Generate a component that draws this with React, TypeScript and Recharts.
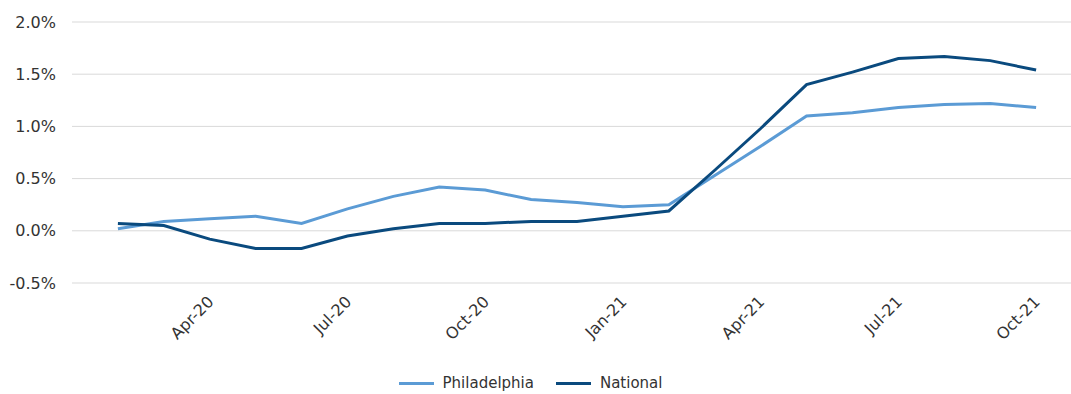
import React from "react";
import {
  LineChart,
  Line,
  XAxis,
  YAxis,
  CartesianGrid,
  Legend,
} from "recharts";

// Monthly change, Feb-20 through Oct-21
const months = [
  "Feb-20", "Mar-20", "Apr-20", "May-20", "Jun-20", "Jul-20", "Aug-20",
  "Sep-20", "Oct-20", "Nov-20", "Dec-20", "Jan-21", "Feb-21", "Mar-21",
  "Apr-21", "May-21", "Jun-21", "Jul-21", "Aug-21", "Sep-21", "Oct-21",
];

const philadelphia = [
  0.02, 0.09, 0.115, 0.14, 0.07, 0.21, 0.33, 0.42, 0.39, 0.3, 0.27, 0.23,
  0.25, 0.53, 0.81, 1.1, 1.13, 1.18, 1.21, 1.22, 1.18,
];

const national = [
  0.07, 0.05, -0.08, -0.17, -0.17, -0.05, 0.02, 0.07, 0.07, 0.09, 0.09, 0.14,
  0.19, 0.58, 0.98, 1.4, 1.52, 1.65, 1.67, 1.63, 1.54,
];

const tickMonths = ["Apr-20", "Jul-20", "Oct-20", "Jan-21", "Apr-21", "Jul-21", "Oct-21"];
const yTicks = [-0.5, 0, 0.5, 1.0, 1.5, 2.0];

// x position 0 is Jan-20, so Feb-20 sits one step in from the left edge
const data = months.map((m, i) => ({
  idx: i + 1,
  month: m,
  Philadelphia: philadelphia[i],
  National: national[i],
}));
const xTicks = tickMonths.map((m) => months.indexOf(m) + 1);

const FONT = "'DejaVu Sans', sans-serif";
const LIGHT = "#5b9bd5";
const DARK = "#0a4a7e";

const MonthTick = (props: any) => {
  const { x, y, payload } = props;
  return (
    <text
      transform={`translate(${x + 1},${y + 8}) rotate(-45)`}
      textAnchor="end"
      dominantBaseline="central"
      fontFamily={FONT}
      fontSize={16}
      fill="#333"
    >
      {months[payload.value - 1]}
    </text>
  );
};

const LegendRow = () => (
  <div
    style={{
      display: "flex",
      justifyContent: "center",
      alignItems: "center",
      fontFamily: FONT,
      fontSize: 15,
      color: "#333",
      height: 22,
      paddingRight: 10,
    }}
  >
    {[
      { name: "Philadelphia", color: LIGHT },
      { name: "National", color: DARK },
    ].map((s) => (
      <div key={s.name} style={{ display: "flex", alignItems: "center", margin: "0 11px" }}>
        <span style={{ width: 35, height: 3, background: s.color, marginRight: 9 }} />
        {s.name}
      </div>
    ))}
  </div>
);

export default function App() {
  return (
    <div style={{ position: "absolute", left: 0, top: 0, background: "#fff" }}>
      <LineChart
        width={1071}
        height={394}
        data={data}
        margin={{ top: 22, right: 0, left: 0, bottom: 0 }}
      >
        <CartesianGrid vertical={false} stroke="#d9d9d9" strokeWidth={1} />
        <XAxis
          dataKey="idx"
          type="number"
          domain={[0, 21.76]}
          ticks={xTicks}
          tick={<MonthTick />}
          tickLine={false}
          axisLine={false}
          height={89}
          interval={0}
        />
        <YAxis
          domain={[-0.5, 2.0]}
          ticks={yTicks}
          tickFormatter={(v: number) => `${v.toFixed(1)}%`}
          tick={{ fontFamily: FONT, fontSize: 16, fill: "#333" }}
          tickLine={false}
          axisLine={false}
          tickSize={0}
          tickMargin={16}
          width={72}
        />
        <Legend verticalAlign="bottom" height={22} content={<LegendRow />} />
        <Line
          dataKey="Philadelphia"
          stroke={LIGHT}
          strokeWidth={3}
          dot={false}
          isAnimationActive={false}
        />
        <Line
          dataKey="National"
          stroke={DARK}
          strokeWidth={3}
          dot={false}
          isAnimationActive={false}
        />
      </LineChart>
    </div>
  );
}
